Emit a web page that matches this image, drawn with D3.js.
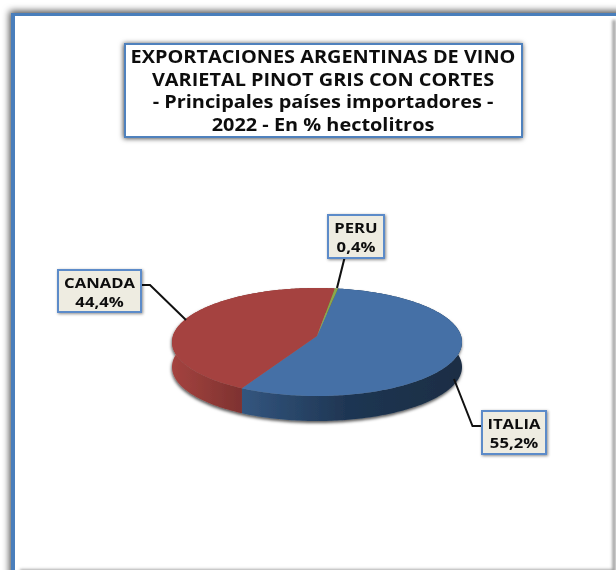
<!DOCTYPE html>
<html>
<head>
<meta charset="utf-8">
<script src="https://cdn.jsdelivr.net/npm/d3@7"></script>
<style>
  html, body { margin: 0; padding: 0; background: #fff; overflow: hidden; }
  svg { display: block; }
  text { font-family: "Open Sans", sans-serif; font-weight: 700; fill: #111; }
</style>
</head>
<body>
<div class="graph"></div>
<script>
const categories = ["ITALIA", "CANADA", "PERU"];
const shares = [55.2, 44.4, 0.4];
const shareLabels = ["55,2%", "44,4%", "0,4%"];
const titleLines = [
  "EXPORTACIONES ARGENTINAS DE VINO",
  "VARIETAL PINOT GRIS CON CORTES",
  "- Principales países importadores -",
  "2022 - En % hectolitros"
];
const topColors = ["#4470a6", "#a5423f", "#8aa84c"];

let width = 616, height = 570;

let svg = d3.select(".graph").append("svg")
    .attr("width", width)
    .attr("height", height);

let defs = svg.append("defs");

function shadow(id, blur, dx, dy, opacity) {
    let f = defs.append("filter").attr("id", id)
        .attr("x", "-20%").attr("y", "-20%").attr("width", "140%").attr("height", "140%");
    f.append("feDropShadow")
        .attr("dx", dx).attr("dy", dy)
        .attr("stdDeviation", blur)
        .attr("flood-color", "#000")
        .attr("flood-opacity", opacity);
}
shadow("frameShadow", 3.5, -2, -2, 0.7);
shadow("boxShadow", 2.5, -0.5, 0.5, 0.75);
shadow("labelShadow", 1.5, 1, 1, 0.45);
shadow("pieShadow", 1.5, -0.5, 2, 0.65);

defs.append("filter").attr("id", "soft")
    .attr("x", "-10%").attr("y", "-10%").attr("width", "120%").attr("height", "120%")
    .append("feGaussianBlur").attr("stdDeviation", 0.45);
defs.append("filter").attr("id", "edgeBlur")
    .attr("filterUnits", "userSpaceOnUse")
    .attr("x", 0).attr("y", 0).attr("width", width).attr("height", height)
    .append("feGaussianBlur").attr("stdDeviation", 1.6);

function wallGradient(id, stops) {
    let g = defs.append("linearGradient").attr("id", id)
        .attr("gradientUnits", "userSpaceOnUse")
        .attr("x1", 172).attr("x2", 462).attr("y1", 0).attr("y2", 0);
    stops.forEach(s => g.append("stop").attr("offset", s[0]).attr("stop-color", s[1]));
}
wallGradient("wall0", [[0.24, "#33567f"], [0.6, "#1f3653"], [1, "#1a2d44"]]);
wallGradient("wall1", [[0, "#a4433f"], [0.24, "#7e3230"]]);
wallGradient("wall2", [[0, "#5f7530"], [1, "#5f7530"]]);

// outer frame, right and bottom run off the picture
svg.append("rect")
    .attr("x", 13).attr("y", 14.5)
    .attr("width", 640).attr("height", 600)
    .attr("fill", "#fff")
    .attr("stroke", "#4a7ebb")
    .attr("stroke-width", 3)
    .attr("filter", "url(#frameShadow)");

// left side of the frame is a bit thicker
svg.append("path")
    .attr("stroke", "#4a7ebb")
    .attr("stroke-width", 4)
    .attr("d", "M13,13V570");

// inner gray edge on the right and at the bottom
svg.append("path")
    .attr("fill", "none")
    .attr("stroke", "#8f8f8f")
    .attr("stroke-width", 3)
    .attr("filter", "url(#edgeBlur)")
    .attr("d", "M614,20V571H20");

// title box
svg.append("rect")
    .attr("x", 125).attr("y", 44)
    .attr("width", 397).attr("height", 93)
    .attr("fill", "#fff")
    .attr("stroke", "#4f81bd")
    .attr("stroke-width", 2)
    .attr("filter", "url(#boxShadow)");

svg.append("g")
    .attr("filter", "url(#soft)")
    .selectAll("text")
    .data(titleLines)
    .enter().append("text")
    .attr("transform", (d, i) => "translate(323," + (63 + i * 22.5) + ") scale(1.17,1)")
    .attr("text-anchor", "middle")
    .style("font-size", "17px")
    .text(d => d);

// pie: circle seen in perspective, so its centre sits above the middle of the ellipse
let cx = 317, cy = 342, rx = 145, ry = 54, depth = 25;
let persp = -1 / 9, centerShift = -6;

function project(a, r) {
    let u = r * Math.sin(a), v = -r * Math.cos(a);
    let w = 1 + persp * v;
    return [cx + rx * Math.sqrt(1 - persp * persp) * u / w,
            cy + (ry * v + centerShift) / w];
}

let pie = d3.pie().sort(null)
    .startAngle(9.3 * Math.PI / 180)
    .endAngle(369.3 * Math.PI / 180);
let slices = pie(shares);
let line = d3.line();

function ring(s) {
    let n = Math.max(2, Math.ceil((s.endAngle - s.startAngle) * 60));
    return d3.range(n + 1).map(i => project(s.startAngle + (s.endAngle - s.startAngle) * i / n, 1));
}

let pieGroup = svg.append("g").attr("filter", "url(#pieShadow)");

pieGroup.selectAll(".wall")
    .data(slices)
    .enter().append("path")
    .attr("class", "wall")
    .attr("fill", (d, i) => "url(#wall" + i + ")")
    .attr("d", d => {
        let top = ring(d);
        let bottom = top.map(p => [p[0], p[1] + depth]).reverse();
        return line(top.concat(bottom)) + "Z";
    });

pieGroup.selectAll(".slice")
    .data(slices)
    .enter().append("path")
    .attr("class", "slice")
    .attr("fill", (d, i) => topColors[i])
    .attr("d", d => line([project(0, 0)].concat(ring(d))) + "Z");

// leader lines, drawn before the label boxes
const labelBoxes = [
    {x: 482, y: 411, w: 64, h: 43, leader: [[454, 379], [472.5, 426], [482, 426]]},
    {x: 58, y: 270, w: 83, h: 42, leader: [[186, 320], [150, 285], [141, 285]]},
    {x: 328, y: 215, w: 56, h: 43, leader: [[337, 288], [344.5, 258]]}
];

svg.append("g").selectAll("path")
    .data(labelBoxes)
    .enter().append("path")
    .attr("fill", "none")
    .attr("stroke", "#111")
    .attr("stroke-width", 2)
    .attr("d", d => line(d.leader));

let labels = svg.append("g").selectAll("g")
    .data(labelBoxes)
    .enter().append("g");

labels.append("rect")
    .attr("x", d => d.x).attr("y", d => d.y)
    .attr("width", d => d.w).attr("height", d => d.h)
    .attr("fill", "#eeece1")
    .attr("stroke", "#5b8bc9")
    .attr("stroke-width", 2)
    .attr("filter", "url(#labelShadow)");

labels.append("text")
    .attr("transform", d => "translate(" + (d.x + d.w / 2) + "," + (d.y + 18) + ") scale(1.19,1)")
    .attr("text-anchor", "middle")
    .attr("filter", "url(#soft)")
    .style("font-size", "14px")
    .text((d, i) => categories[i]);

labels.append("text")
    .attr("transform", d => "translate(" + (d.x + d.w / 2) + "," + (d.y + 36.5) + ") scale(1.19,1)")
    .attr("text-anchor", "middle")
    .attr("filter", "url(#soft)")
    .style("font-size", "14px")
    .text((d, i) => shareLabels[i]);
</script>
</body>
</html>
